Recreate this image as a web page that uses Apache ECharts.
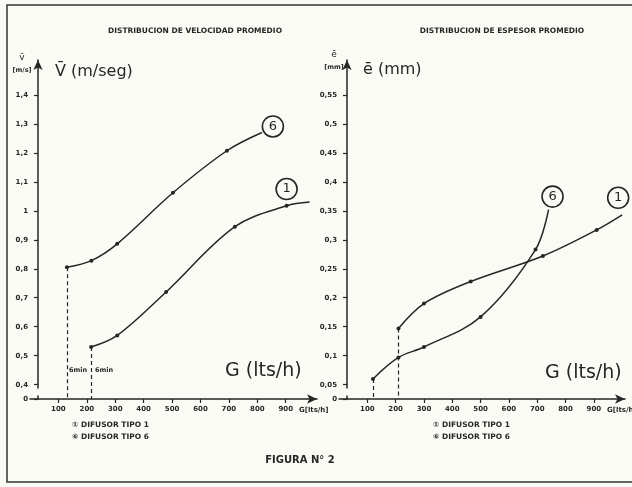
<!DOCTYPE html>
<html>
<head>
<meta charset="utf-8">
<script src="https://cdn.jsdelivr.net/npm/echarts@6.0.0/dist/echarts.min.js"></script>
<style>
  html, body { margin: 0; padding: 0; background: #fbfbf6; }
  #main { width: 632px; height: 487px; }
</style>
</head>
<body>
<div id="main"></div>
<script>
// G en lts/h ; velocidad en m/s ; espesor en mm
const gTicks = [100, 200, 300, 400, 500, 600, 700, 800, 900]
const velTicks = [0, 0.4, 0.5, 0.6, 0.7, 0.8, 0.9, 1, 1.1, 1.2, 1.3, 1.4]
const espTicks = [0, 0.05, 0.1, 0.15, 0.2, 0.25, 0.3, 0.35, 0.4, 0.45, 0.5, 0.55]

const velTipo6 = [[130, 0.805], [216, 0.828], [307, 0.886], [503, 1.062], [693, 1.207], [816, 1.27]]
const velTipo1 = [[215, 0.53], [307, 0.57], [479, 0.72], [721, 0.945], [903, 1.017], [984, 1.03]]
const espTipo6 = [[120, 0.06], [210, 0.097], [300, 0.115], [500, 0.167], [694, 0.283], [740, 0.352]]
const espTipo1 = [[210, 0.147], [300, 0.19], [465, 0.228], [720, 0.272], [910, 0.317], [1000, 0.343]]

const ink = '#262626'
const font = 'DejaVu Sans, Noto Sans CJK SC, sans-serif'

const comma = function (v) {
  return String(v).replace('.', ',')
}

const xAxisOf = function (idx) {
  return {
    gridIndex: idx,
    type: 'value',
    min: 0,
    max: 1010,
    name: 'G[lts/h]',
    nameLocation: 'end',
    nameGap: -20,
    nameTextStyle: { color: ink, fontSize: 7, fontWeight: 'bold', fontFamily: font, verticalAlign: 'top', padding: [8, 0, 0, 0] },
    splitLine: { show: false },
    axisLine: { symbol: ['none', 'arrow'], symbolSize: [7, 10], lineStyle: { color: ink, width: 1.5 } },
    axisTick: { show: true, length: 4, inside: false, customValues: gTicks, lineStyle: { color: ink, width: 1.2 } },
    axisLabel: { customValues: gTicks, color: ink, fontSize: 7, fontWeight: 'bold', fontFamily: font, margin: 7 }
  }
}

const yAxisOf = function (idx, max, ticks, brk) {
  return {
    gridIndex: idx,
    type: 'value',
    min: 0,
    max: max,
    offset: -8,
    breaks: [brk],
    breakArea: { show: false },
    splitLine: { show: false },
    axisLine: { show: true, symbol: ['none', 'arrow'], symbolSize: [7, 10], lineStyle: { color: ink, width: 1.5 } },
    axisTick: { show: true, length: 4, customValues: ticks, lineStyle: { color: ink, width: 1.2 } },
    axisLabel: { customValues: ticks, formatter: comma, color: ink, fontSize: 7, fontWeight: 'bold', fontFamily: font, margin: 10 }
  }
}

const curve = function (data, idx, num, offset) {
  const last = data.length - 1
  return {
    type: 'line',
    xAxisIndex: idx,
    yAxisIndex: idx,
    data: data,
    smooth: 0.35,
    symbol: function (v, p) { return p.dataIndex === last ? 'none' : 'circle' },
    symbolSize: 4,
    itemStyle: { color: ink },
    lineStyle: { color: ink, width: 1.5 },
    animation: false,
    markLine: {
      silent: true,
      symbol: 'none',
      label: { show: false },
      lineStyle: { color: ink, type: [4, 3], width: 1.2 },
      data: [[{ coord: [data[0][0], data[0][1]] }, { coord: [data[0][0], 0] }]]
    },
    markPoint: {
      silent: true,
      symbol: 'circle',
      symbolSize: 21,
      symbolOffset: offset,
      itemStyle: { color: 'rgba(0,0,0,0)', borderColor: ink, borderWidth: 1.6 },
      label: { show: true, position: 'inside', formatter: num, color: ink, fontSize: 13, fontFamily: font },
      data: [{ coord: data[last] }]
    }
  }
}

const txt = function (text, x, y, size, weight, align) {
  return {
    type: 'text',
    x: x,
    y: y,
    silent: true,
    style: {
      text: text,
      fill: ink,
      font: (weight || 'normal') + ' ' + size + 'px ' + font,
      align: align || 'left',
      verticalAlign: 'middle'
    }
  }
}

const chart = echarts.init(document.getElementById('main'))
const option = {
  backgroundColor: '#fbfbf6',
  animation: false,
  grid: [
    { left: 30, top: 60, width: 287, height: 339, outerBoundsMode: 'none' },
    { left: 339, top: 60, width: 286, height: 339, outerBoundsMode: 'none' }
  ],
  xAxis: [xAxisOf(0), xAxisOf(1)],
  yAxis: [
    yAxisOf(0, 1.52, velTicks, { start: 0.01, end: 0.39, gap: '2.5%' }),
    yAxisOf(1, 0.61, espTicks, { start: 0.005, end: 0.045, gap: '2.5%' })
  ],
  series: [
    curve(velTipo6, 0, '6', [11, -6]),
    curve(velTipo1, 0, '1', [-23, -13]),
    curve(espTipo6, 1, '6', [4, -13]),
    curve(espTipo1, 1, '1', [-4, -17])
  ],
  graphic: [
    {
      type: 'rect',
      silent: true,
      shape: { x: 7, y: 5, width: 640, height: 477 },
      style: { fill: 'none', stroke: '#333', lineWidth: 1.5 }
    },
    txt('DISTRIBUCION DE VELOCIDAD PROMEDIO', 195, 31, 7.5, 'bold', 'center'),
    txt('DISTRIBUCION DE ESPESOR PROMEDIO', 502, 31, 7.5, 'bold', 'center'),
    txt('v\u0304', 22, 58, 9, 'normal', 'center'),
    txt('[m/s]', 22, 70, 6.5, 'bold', 'center'),
    txt('e\u0304', 334, 55, 9, 'normal', 'center'),
    txt('[mm]', 334, 67, 6.5, 'bold', 'center'),
    txt('V\u0304 (m/seg)', 55, 72, 16, 'normal'),
    txt('e\u0304 (mm)', 363, 70, 16, 'normal'),
    txt('G (lts/h)', 225, 371, 19, 'normal'),
    txt('G (lts/h)', 545, 373, 19, 'normal'),
    txt('6min', 69, 370, 6.5, 'bold'),
    txt('6min', 95, 370, 6.5, 'bold'),
    txt('\u2460 DIFUSOR TIPO 1', 72, 425, 7.5, 'bold'),
    txt('\u2465 DIFUSOR TIPO 6', 72, 437, 7.5, 'bold'),
    txt('\u2460 DIFUSOR TIPO 1', 433, 425, 7.5, 'bold'),
    txt('\u2465 DIFUSOR TIPO 6', 433, 437, 7.5, 'bold'),
    txt('FIGURA N\u00b0 2', 300, 460, 10, 'bold', 'center')
  ]
}
chart.setOption(option)
</script>
</body>
</html>
